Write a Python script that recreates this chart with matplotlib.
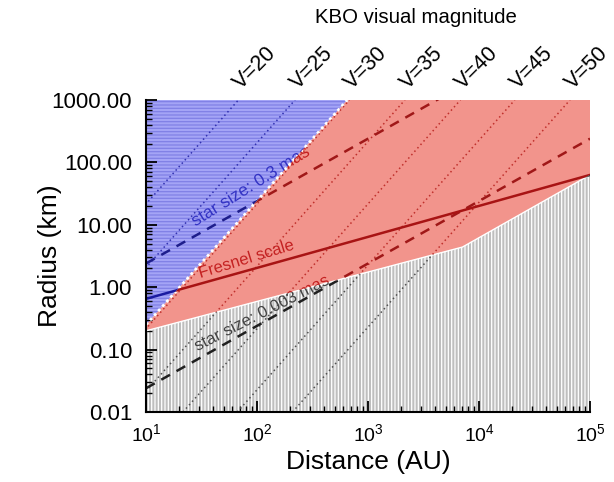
import numpy as np
import matplotlib.pyplot as plt
import matplotlib.patheffects as pe
from matplotlib.ticker import FormatStrFormatter, LogLocator

plt.rcParams['font.family'] = ['Liberation Sans', 'DejaVu Sans']
plt.rcParams['hatch.linewidth'] = 0.9

# region edges (distance in AU, radius in km)
blue_edge_dist = [10, 650]
blue_edge_rad = [0.25, 1000]
gray_edge_dist = [10, 3850, 7100, 1e5]
gray_edge_rad = [0.2, 3.3, 4.4, 63]

fresnel_dist = [10, 1e5]
fresnel_rad = [0.65, 63]
star_dist = [10, 1e5]
star_big_rad = [2.4, 24000]     # 0.3 mas
star_small_rad = [0.024, 240]   # 0.003 mas

v_mags = [20, 25, 30, 35, 40, 45, 50]
v_top_dist = [68, 220, 680, 2150, 6800, 21000, 66000]  # where each V line reaches 1000 km

xmin, xmax = 10, 1e5
ymin, ymax = 0.01, 1000

fig = plt.figure(figsize=(6.14, 4.82), dpi=100)
ax = fig.add_axes([146 / 614, 1 - 412 / 482, 444 / 614, 312 / 482])
ax.set_xscale('log')
ax.set_yscale('log')
ax.set_xlim(xmin, xmax)
ax.set_ylim(ymin, ymax)

# the three regions
bx = [xmin] + blue_edge_dist
by = [ymax] + blue_edge_rad
blue = ax.fill(bx, by, facecolor='#a4a4f6', edgecolor='#8080e6', lw=0,
               hatch='-----')[0]

rx = blue_edge_dist + [xmax] + gray_edge_dist[::-1]
ry = blue_edge_rad + [ymax] + gray_edge_rad[::-1]
red = ax.fill(rx, ry, facecolor='#f2948c', lw=0)[0]

gx = gray_edge_dist + [xmax, xmin]
gy = gray_edge_rad + [ymin, ymin]
gray = ax.fill(gx, gy, facecolor='#bebebe', edgecolor='white', lw=0,
               hatch='|||||')[0]

ax.plot(blue_edge_dist, blue_edge_rad, color='white', lw=2, ls=(0, (1, 1.2)))
ax.plot(gray_edge_dist, gray_edge_rad, color='white', lw=1)

regions = [blue, red, gray]


def clipped_line(x, y, colors, **kw):
    for patch, c in zip(regions, colors):
        ln, = ax.plot(x, y, color=c, **kw)
        ln.set_clip_path(patch)


def clipped_text(x, y, s, colors, **kw):
    # text drawn as paths so the region clip applies
    for patch, c in zip(regions, colors):
        t = ax.text(x, y, s, color=c, clip_on=True,
                    path_effects=[pe.Normal()], **kw)
        t.set_clip_path(patch)


# magnitude lines, R ~ D^2
dot_colors = ['#3030b0', '#c0302c', '#505050']
for v, d in zip(v_mags, v_top_dist):
    clipped_line([d / 10 ** 2.5, d], [ymin, ymax], dot_colors,
                 lw=1.1, ls=(0, (1, 2)))
    ax.annotate('V=%d' % v, xy=(d, ymax), xytext=(4.5, 5),
                textcoords='offset points', rotation=45,
                rotation_mode='anchor', ha='left', va='bottom',
                fontsize=15.5, annotation_clip=False)

dash_colors = ['#1e1e8c', '#a01818', '#202020']
clipped_line(star_dist, star_big_rad, dash_colors, lw=1.8, ls=(0, (4, 3)))
clipped_line(star_dist, star_small_rad, dash_colors, lw=1.8, ls=(0, (4, 3)))

solid_colors = ['#1a1aa0', '#a81414', '#202020']
clipped_line(fresnel_dist, fresnel_rad, solid_colors, lw=1.8)

lab_colors = ['#3434c4', '#c42222', '#444444']
clipped_text(88, 41, 'star size: 0.3 mas', lab_colors, fontsize=12.5,
             rotation=32, ha='center', va='center', rotation_mode='anchor')
clipped_text(80, 2.8, 'Fresnel scale', lab_colors, fontsize=12,
             rotation=17, ha='center', va='center', rotation_mode='anchor')
clipped_text(110, 0.38, 'star size: 0.003 mas', lab_colors, fontsize=12,
             rotation=27, ha='center', va='center', rotation_mode='anchor')

fig.text(0.678, 0.963, 'KBO visual magnitude', fontsize=14.7,
         ha='center', va='center')

ax.set_xlabel('Distance (AU)', fontsize=19)
ax.set_ylabel('Radius (km)', fontsize=19)
ax.xaxis.set_label_coords(0.5, -0.122)
ax.yaxis.set_label_coords(-0.19, 0.5)

ax.yaxis.set_major_formatter(FormatStrFormatter('%.2f'))
ax.yaxis.set_minor_locator(LogLocator(base=10, subs=np.arange(2, 10), numticks=20))
ax.xaxis.set_minor_locator(LogLocator(base=10, subs=np.arange(2, 10), numticks=20))
ax.tick_params(which='both', direction='in', top=False, right=False)
ax.tick_params(which='major', length=8, width=1.3)
ax.tick_params(which='minor', length=4, width=1)
ax.tick_params(axis='y', labelsize=16, pad=10)
ax.tick_params(axis='x', labelsize=14, pad=8)
for side in ['top', 'right']:
    ax.spines[side].set_visible(False)
for side in ['left', 'bottom']:
    ax.spines[side].set_linewidth(1.5)

fig.savefig('out.png', dpi=100)
